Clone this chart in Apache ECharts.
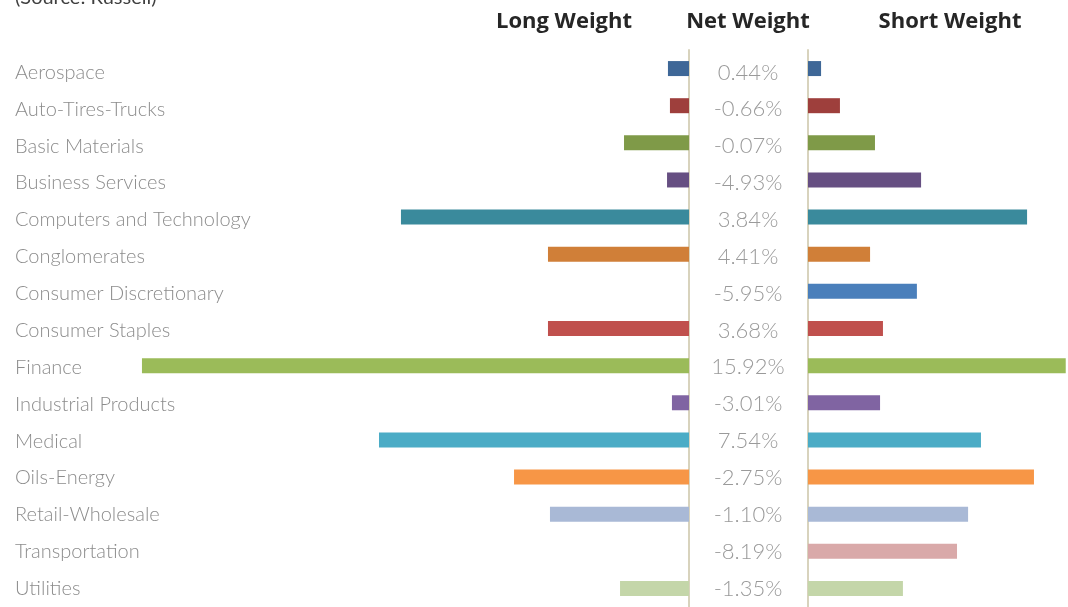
<!DOCTYPE html>
<html>
<head>
<meta charset="utf-8">
<script src="https://cdn.jsdelivr.net/npm/echarts@6/dist/echarts.min.js"></script>
<style>
  html, body { margin: 0; padding: 0; background: #fff; }
  #chart { width: 1068px; height: 607px; }
</style>
</head>
<body>
<div id="chart"></div>
<script>
// sectors, top to bottom
const sectors = ['Aerospace', 'Auto-Tires-Trucks', 'Basic Materials', 'Business Services',
  'Computers and Technology', 'Conglomerates', 'Consumer Discretionary', 'Consumer Staples',
  'Finance', 'Industrial Products', 'Medical', 'Oils-Energy', 'Retail-Wholesale',
  'Transportation', 'Utilities'];
// weights in %
const longWeight = [1.16, 1.05, 3.58, 1.21, 15.87, 7.77, 0, 7.77, 30.14, 0.94, 17.08, 9.64, 7.66, 0, 3.80];
const shortWeight = [0.72, 1.76, 3.69, 6.23, 12.07, 3.42, 6.0, 4.13, 14.2, 3.97, 9.53, 12.45, 8.82, 8.21, 5.23];
const netWeight = [0.44, -0.66, -0.07, -4.93, 3.84, 4.41, -5.95, 3.68, 15.92, -3.01, 7.54, -2.75, -1.10, -8.19, -1.35];
const colors = ['#3e6797', '#9e3f3c', '#7f9a48', '#664f82', '#3a8a9c', '#d07f38', '#4a7fbb',
  '#c0504d', '#9bbb59', '#8064a2', '#4bacc6', '#f79646', '#a9b9d6', '#d9a9a9', '#c4d6a9'];

const pxPerPct = 18.15;
const gridTop = 50, gridH = 560;
const leftMax = 35, rightW = 260;
const txtFont = 'Lato';

let myChart = echarts.init(document.getElementById('chart'));

const lineColor = '#d8d3bd';
const hdr = {fontFamily: 'Open Sans', fontWeight: 'bold', fontSize: 22, fill: '#262626'};

let option = {
  animation: false,
  grid: [
    {left: 689 - leftMax * pxPerPct, width: leftMax * pxPerPct, top: gridTop, height: gridH},
    {left: 808, width: rightW, top: gridTop, height: gridH},
    // text rows sit a bit lower and spread a touch wider than the bars
    {left: 15, width: 808 - 15, top: 54, height: 566}
  ],
  xAxis: [
    {gridIndex: 0, type: 'value', min: 0, max: leftMax, inverse: true, show: false},
    {gridIndex: 1, type: 'value', min: 0, max: rightW / pxPerPct, show: false},
    {gridIndex: 2, type: 'value', min: 0, max: 1, show: false}
  ],
  yAxis: [
    // divider at long bars' base
    {gridIndex: 0, type: 'category', data: sectors, inverse: true, position: 'right',
      axisLine: {show: true, lineStyle: {color: lineColor, width: 2}},
      axisTick: {show: false}, axisLabel: {show: false}},
    // divider at short bars' base
    {gridIndex: 1, type: 'category', data: sectors, inverse: true, position: 'left',
      axisLine: {show: true, lineStyle: {color: lineColor, width: 2}},
      axisTick: {show: false}, axisLabel: {show: false}},
    // sector names
    {gridIndex: 2, type: 'category', data: sectors, inverse: true, position: 'left',
      axisLine: {show: false}, axisTick: {show: false},
      axisLabel: {align: 'left', margin: 0, color: '#8c8c8c',
        fontFamily: txtFont, fontWeight: 300, fontSize: 20}},
    // net weight column
    {gridIndex: 2, type: 'category', data: sectors, inverse: true, position: 'right',
      axisLine: {show: false}, axisTick: {show: false},
      axisLabel: {align: 'center', margin: -60, color: '#9a9a9a',
        fontFamily: txtFont, fontWeight: 300, fontSize: 22,
        formatter: (v, i) => netWeight[i].toFixed(2) + '%'}}
  ],
  series: [
    {type: 'bar', xAxisIndex: 0, yAxisIndex: 0, data: longWeight, barWidth: 15,
      itemStyle: {color: p => colors[p.dataIndex]}},
    {type: 'bar', xAxisIndex: 1, yAxisIndex: 1, data: shortWeight, barWidth: 15,
      itemStyle: {color: p => colors[p.dataIndex]}}
  ],
  graphic: [
    {type: 'text', left: 15, top: -12, style: {text: '(Source: Russell)', fontFamily: txtFont,
      fontSize: 20, fill: '#404040'}},
    {type: 'text', x: 564, y: 22, style: Object.assign({text: 'Long Weight', align: 'center', verticalAlign: 'middle'}, hdr)},
    {type: 'text', x: 748, y: 22, style: Object.assign({text: 'Net Weight', align: 'center', verticalAlign: 'middle'}, hdr)},
    {type: 'text', x: 950, y: 22, style: Object.assign({text: 'Short Weight', align: 'center', verticalAlign: 'middle'}, hdr)}
  ]
};
myChart.setOption(option);
</script>
</body>
</html>
